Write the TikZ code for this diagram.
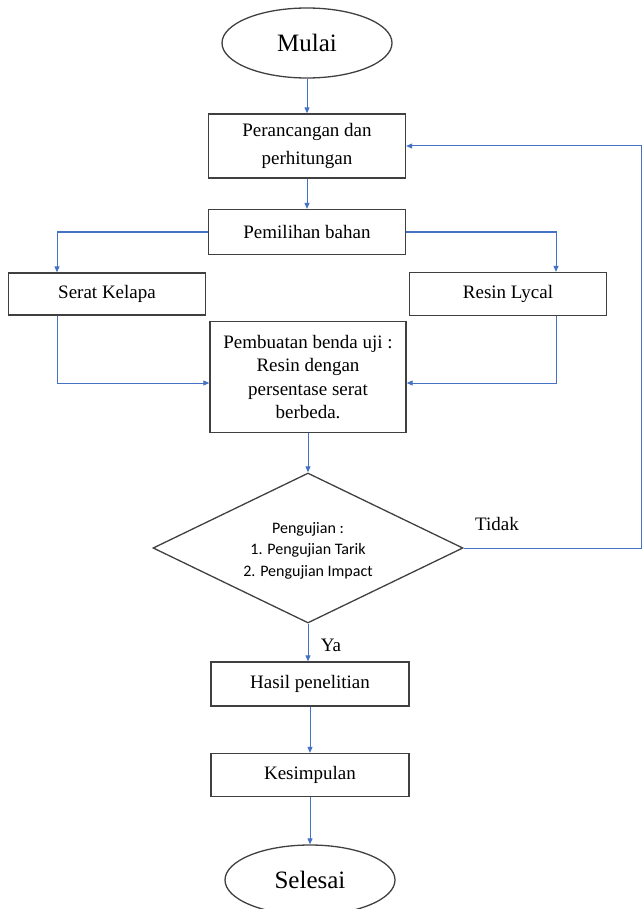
\documentclass[tikz,border=0pt]{standalone}
\usepackage{fontspec}
\setmainfont{Liberation Serif}
\newfontfamily\calibri{Carlito}
\usetikzlibrary{shapes.geometric,arrows.meta}
\definecolor{garis}{RGB}{68,114,196}
\definecolor{tepi}{RGB}{64,64,64}
\begin{document}
\begin{tikzpicture}[x=1pt,y=-1pt,
    kotak/.style={draw=tepi,line width=1.3pt,rectangle,minimum width=197pt,align=center,inner sep=2pt,font=\fontsize{19}{23.3}\selectfont},
    oval/.style={draw=tepi,line width=1.3pt,ellipse,minimum width=170pt,minimum height=70pt,font=\fontsize{25}{30}\selectfont},
    keputusan/.style={draw=tepi,line width=1.3pt,diamond,aspect=2.07,minimum width=310pt,minimum height=150pt,inner sep=0pt,align=center,font=\calibri\fontsize{16}{21.5}\selectfont},
    panah/.style={garis,line width=1pt,-{Triangle[length=6pt,width=5pt]}},
    label/.style={font=\fontsize{19}{23}\selectfont}]
                \useasboundingbox (0,0) rectangle (643,909);
                \node[oval] (mulai) at (307,43) {Mulai};
                \node[kotak,minimum height=64pt,font=\fontsize{19}{28}\selectfont] (rancang) at (307,146) {Perancangan dan\\perhitungan};
                \node[kotak,minimum height=45pt] (pilih) at (307,232) {Pemilihan bahan};
                \node[kotak,minimum height=42pt] (serat) at (107,294) {Serat Kelapa};
                \node[kotak,minimum height=43pt] (resin) at (508,294) {Resin Lycal};
                \node[kotak,minimum width=196pt,minimum height=111pt] (buat) at (308,377) {Pembuatan benda uji :\\Resin dengan\\persentase serat\\berbeda.};
                \node[keputusan] (uji) at (308,548) {\\[-5pt]Pengujian :\\1. Pengujian Tarik\\2. Pengujian Impact};
                \node[kotak,minimum width=198pt,minimum height=44pt] (hasil) at (310,684) {Hasil penelitian};
                \node[kotak,minimum width=198pt,minimum height=43pt] (simpul) at (310,775) {Kesimpulan};
                \node[oval] (selesai) at (310,880) {Selesai};
                \coordinate (kanan) at (641,548);
                \draw[panah] (mulai) -- (rancang);
                \draw[panah] (rancang) -- (pilih);
                \draw[panah] (pilih.west) -| ([xshift=-50pt]serat.north);
                \draw[panah] (pilih.east) -| ([xshift=48pt]resin.north);
                \draw[panah] ([xshift=-50pt]serat.south) |- ([yshift=-6pt]buat.west);
                \draw[panah] ([xshift=48pt]resin.south) |- ([yshift=-6pt]buat.east);
                \draw[panah] (buat) -- (uji);
                \draw[panah] (uji.east) -- (kanan) |- (rancang.east);
                \node[label] (tidak) at (497,524) {Tidak};
                \draw[panah] (uji.south) -- (uji.south |- hasil.north);
                \node[label] (ya) at (331,645) {Ya};
                \draw[panah] (hasil) -- (simpul);
                \draw[panah] (simpul) -- (selesai);
            \end{tikzpicture}
\end{document}
